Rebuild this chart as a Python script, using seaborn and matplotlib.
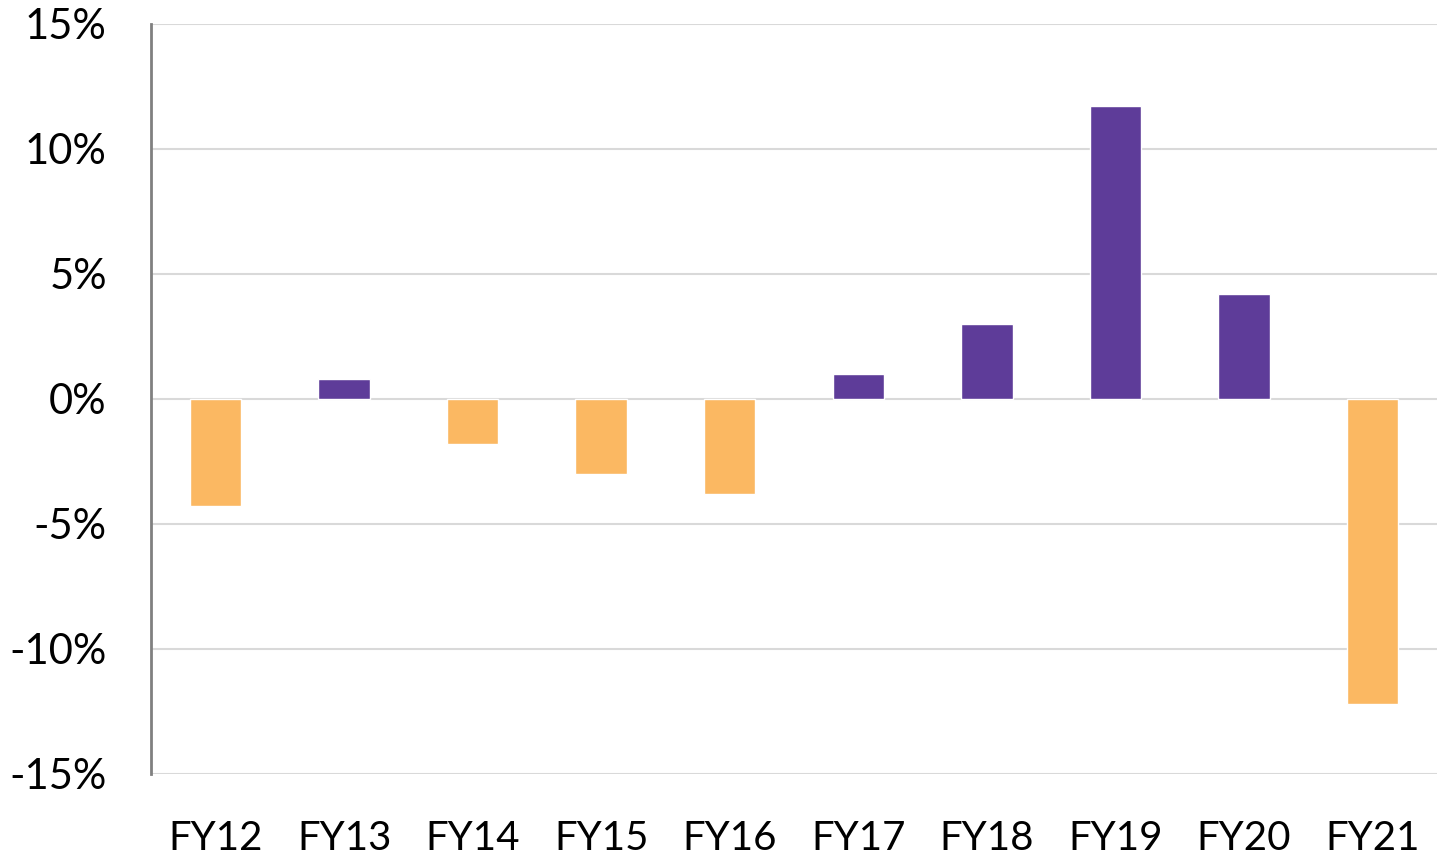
import matplotlib
matplotlib.use("Agg")
import matplotlib.pyplot as plt
import seaborn as sns
import pandas as pd
from matplotlib.ticker import FuncFormatter

years = ['FY12', 'FY13', 'FY14', 'FY15', 'FY16', 'FY17', 'FY18', 'FY19', 'FY20', 'FY21']
growth = [-4.3, 0.8, -1.8, -3.0, -3.8, 1.0, 3.0, 11.7, 4.2, -12.2]

purple = '#5E3C99'
orange = '#FBB862'

sns.set_style('white')
plt.rcParams['font.family'] = ['Lato', 'DejaVu Sans']

df = pd.DataFrame({'year': years, 'growth': growth})
df['sign'] = ['pos' if v >= 0 else 'neg' for v in growth]

fig, ax = plt.subplots(figsize=(14.41, 8.57), dpi=100)
fig.subplots_adjust(left=0.105, right=0.997, top=0.972, bottom=0.097)

sns.barplot(data=df, x='year', y='growth', hue='sign',
            palette={'pos': purple, 'neg': orange}, width=0.4,
            saturation=1, dodge=False, legend=False, ax=ax, zorder=3)

ax.set_ylim(-15, 15)
ax.set_yticks([-15, -10, -5, 0, 5, 10, 15])
ax.yaxis.set_major_formatter(FuncFormatter(lambda v, p: f'{v:.0f}%'))
ax.grid(axis='y', color='#D9D9D9', linewidth=1.5, zorder=0)
ax.set_axisbelow(True)
ax.set_xlim(-0.5, len(years) - 0.5)

for s in ['top', 'right', 'bottom']:
    ax.spines[s].set_visible(False)
ax.spines['left'].set_color('#808080')
ax.spines['left'].set_linewidth(2)

ax.tick_params(axis='y', length=0, labelsize=30, colors='black', pad=32)
ax.tick_params(axis='x', length=0, labelsize=29, colors='black', pad=33)
ax.set_xlabel('')
ax.set_ylabel('')

fig.savefig('out.png', dpi=100)
